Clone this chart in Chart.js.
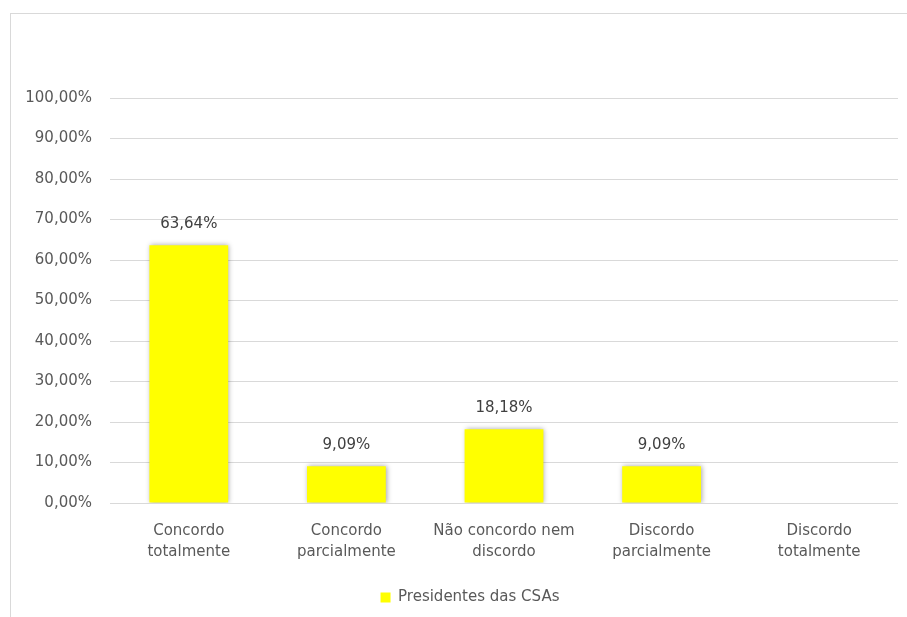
<!DOCTYPE html>
<html><head><meta charset="utf-8">
<script src="https://cdn.jsdelivr.net/npm/chart.js@4"></script>
<style>
html,body{margin:0;padding:0;background:#fff;overflow:hidden;width:907px;height:617px}
#frame{position:absolute;left:10px;top:13px;width:1000px;height:1000px;border:1px solid #d9d9d9;box-sizing:border-box}
#wrap{position:absolute;left:0;top:0;width:907px;height:617px}
</style></head><body>
<div id="frame"></div>
<div id="wrap"><canvas id="c" width="907" height="617"></canvas></div>
<script>
const categories = [['Concordo','totalmente'],['Concordo','parcialmente'],['Não concordo nem','discordo'],['Discordo','parcialmente'],['Discordo','totalmente']];
const seriesName = 'Presidentes das CSAs';
const values = [63.64, 9.09, 18.18, 9.09, 0];
const yMin = 0, yMax = 100, yStep = 10;

const FONT = 'DejaVu Sans';
const fmt = v => v.toFixed(2).replace('.', ',') + '%';

const shadowPlugin = {
  id: 'barShadow',
  beforeDatasetDraw(chart) { const c = chart.ctx; c.save(); c.shadowColor = 'rgba(0,0,0,0.35)'; c.shadowBlur = 5; c.shadowOffsetX = 1; c.shadowOffsetY = 0; },
  afterDatasetDraw(chart) { chart.ctx.restore(); }
};
const labelPlugin = {
  id: 'valueLabels',
  afterDatasetsDraw(chart) {
    const c = chart.ctx;
    const meta = chart.getDatasetMeta(0);
    c.save();
    c.fillStyle = '#404040';
    c.font = '15px "' + FONT + '"';
    c.textAlign = 'center';
    c.textBaseline = 'middle';
    meta.data.forEach((el, i) => {
      const v = chart.data.datasets[0].data[i];
      if (v > 0) c.fillText(fmt(v), el.x, el.y - 21);
    });
    c.restore();
  }
};
const legendShift = {
  id: 'legendShift',
  afterLayout(chart) { if (chart.legend) { chart.legend.left += 21; chart.legend.right += 21; } }
};

new Chart(document.getElementById('c'), {
  type: 'bar',
  data: {
    labels: categories,
    datasets: [{ label: seriesName, data: values, backgroundColor: '#FFFF00', borderWidth: 0, categoryPercentage: 0.5, barPercentage: 1 }]
  },
  options: {
    responsive: false, animation: false, devicePixelRatio: 1,
    layout: { padding: { left: 0, right: 9, top: 98, bottom: 2 } },
    plugins: {
      legend: { position: 'bottom', labels: { boxWidth: 10, boxHeight: 10, padding: 10, color: '#595959', font: { family: FONT, size: 15 } } },
      tooltip: { enabled: false }
    },
    scales: {
      x: {
        grid: { display: false }, border: { display: false },
        ticks: { color: '#595959', font: { family: FONT, size: 15, lineHeight: 1.4 }, padding: 10, maxRotation: 0, autoSkip: false },
        afterFit(s) { s.height = 77; }
      },
      y: {
        min: yMin, max: yMax,
        grid: { color: '#d9d9d9', drawTicks: false, lineWidth: 1 }, border: { display: false },
        ticks: { stepSize: yStep, color: '#595959', font: { family: FONT, size: 15 }, padding: 18, callback: v => fmt(v) },
        afterFit(s) { s.width = 110; }
      }
    }
  },
  plugins: [shadowPlugin, labelPlugin, legendShift]
});
</script>
</body></html>
